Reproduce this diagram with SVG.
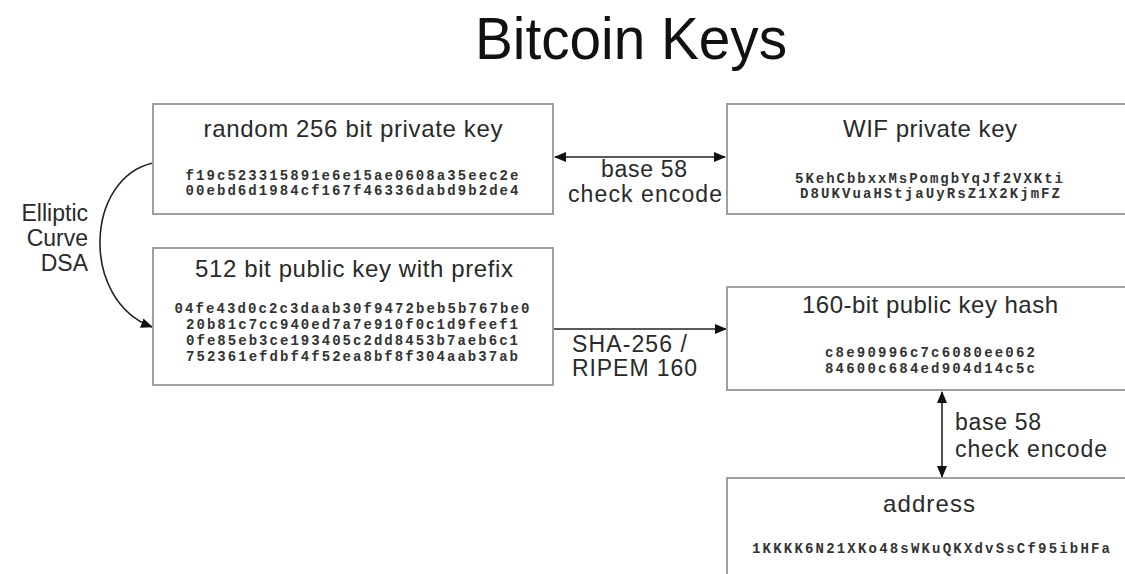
<svg xmlns="http://www.w3.org/2000/svg" width="1125" height="574" viewBox="0 0 1125 574">
<style>
.box{fill:#fff;stroke:#a0a0a0;stroke-width:2}
.ttl{font-family:"Liberation Sans",Arial,sans-serif;font-size:24px;fill:#2a2a2a;text-anchor:middle}
.mono{font-family:"Liberation Mono","Courier New",monospace;font-size:14px;font-weight:bold;fill:#333;text-anchor:middle}
.lbl{font-family:"Liberation Sans",Arial,sans-serif;font-size:23px;fill:#2a2a2a}
.con{fill:none;stroke:#222;stroke-width:1.6}
</style>
<defs>
<marker id="ah" viewBox="0 0 12 10" refX="11" refY="5" markerWidth="12" markerHeight="10" markerUnits="userSpaceOnUse" orient="auto-start-reverse">
<path d="M0,0 L12,5 L0,10 Z" fill="#111"/>
</marker>
</defs>
<rect width="1125" height="574" fill="#fff"/>
<text x="631" y="59" font-family="Liberation Sans,Arial,sans-serif" font-size="60" fill="#111" text-anchor="middle" textLength="312" lengthAdjust="spacingAndGlyphs">Bitcoin Keys</text>

<g id="connectors">
<line class="con" x1="555" y1="157" x2="725" y2="157" marker-start="url(#ah)" marker-end="url(#ah)"/>
<line class="con" x1="554" y1="329" x2="726" y2="329" marker-end="url(#ah)"/>
<line class="con" x1="942" y1="392" x2="942" y2="477" marker-start="url(#ah)" marker-end="url(#ah)"/>
<path class="con" d="M153,163 C85,178 80,300 152,327" marker-end="url(#ah)"/>
<text class="lbl" x="644" y="177" text-anchor="middle" textLength="86">base 58</text>
<text class="lbl" x="645" y="202" text-anchor="middle" textLength="154">check encode</text>
<text class="lbl" x="572" y="352" textLength="115">SHA-256 /</text>
<text class="lbl" x="572" y="376" textLength="125">RIPEM 160</text>
<text class="lbl" x="955" y="430" textLength="86">base 58</text>
<text class="lbl" x="955" y="457" textLength="152">check encode</text>
<text class="lbl" x="88" y="221" text-anchor="end">Elliptic</text>
<text class="lbl" x="88" y="246" text-anchor="end">Curve</text>
<text class="lbl" x="88" y="271" text-anchor="end">DSA</text>
</g>

<g id="private-key">
<rect class="box" x="153" y="104" width="400" height="110"/>
<text class="ttl" x="353" y="137" textLength="299">random 256 bit private key</text>
<text class="mono" x="352" y="180" textLength="333" lengthAdjust="spacing">f19c523315891e6e15ae0608a35eec2e</text>
<text class="mono" x="352" y="195" textLength="333" lengthAdjust="spacing">00ebd6d1984cf167f46336dabd9b2de4</text>
</g>

<g id="wif-key">
<rect class="box" x="727" y="104" width="404" height="110"/>
<text class="ttl" x="930" y="137" textLength="174">WIF private key</text>
<text class="mono" x="929" y="183" textLength="268" lengthAdjust="spacing">5KehCbbxxMsPomgbYqJf2VXKti</text>
<text class="mono" x="930" y="198" textLength="260" lengthAdjust="spacing">D8UKVuaHStjaUyRsZ1X2KjmFZ</text>
</g>

<g id="public-key">
<rect class="box" x="153" y="248" width="400" height="137"/>
<text class="ttl" x="354" y="277" textLength="318">512 bit public key with prefix</text>
<text class="mono" x="352" y="313" textLength="355" lengthAdjust="spacing">04fe43d0c2c3daab30f9472beb5b767be0</text>
<text class="mono" x="352" y="329" textLength="332" lengthAdjust="spacing">20b81c7cc940ed7a7e910f0c1d9feef1</text>
<text class="mono" x="352" y="345" textLength="332" lengthAdjust="spacing">0fe85eb3ce193405c2dd8453b7aeb6c1</text>
<text class="mono" x="352" y="361" textLength="332" lengthAdjust="spacing">752361efdbf4f52ea8bf8f304aab37ab</text>
</g>

<g id="pubkey-hash">
<rect class="box" x="727" y="287" width="404" height="103"/>
<text class="ttl" x="930" y="313" textLength="256">160-bit public key hash</text>
<text class="mono" x="930" y="357" textLength="210" lengthAdjust="spacing">c8e90996c7c6080ee062</text>
<text class="mono" x="930" y="373" textLength="210" lengthAdjust="spacing">84600c684ed904d14c5c</text>
</g>

<g id="address">
<rect class="box" x="727" y="478" width="404" height="110"/>
<text class="ttl" x="929" y="512" textLength="92">address</text>
<text class="mono" x="931" y="553" textLength="358" lengthAdjust="spacing">1KKKK6N21XKo48sWKuQKXdvSsCf95ibHFa</text>
</g>
</svg>
